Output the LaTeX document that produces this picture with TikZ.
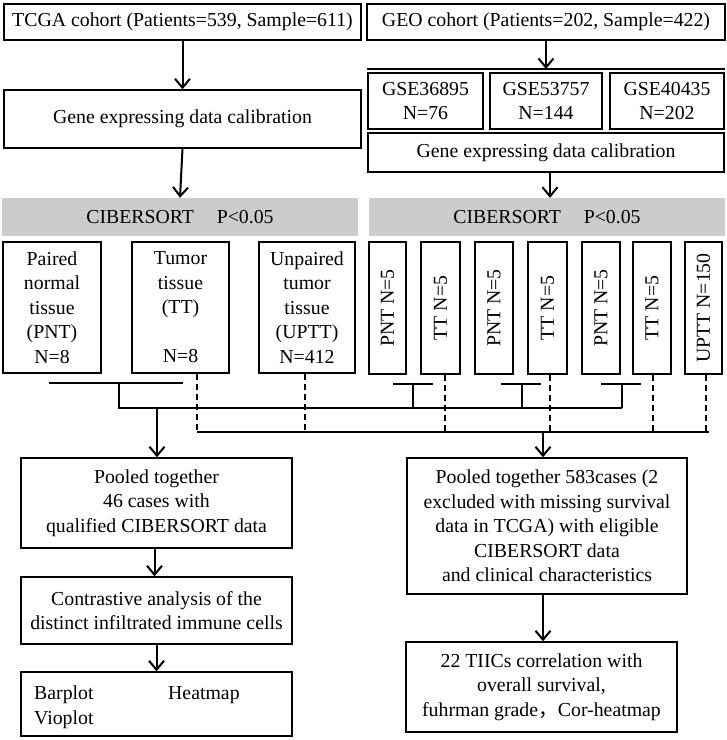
\documentclass[tikz,border=0pt]{standalone}
\usepackage{fontspec}
\setmainfont{Liberation Serif}
\newfontfamily\cjkf{Noto Sans CJK SC}
\usetikzlibrary{arrows.meta}
\begin{document}
\begin{tikzpicture}[x=1pt,y=-1pt,
  txt/.style={font=\fontsize{19.8}{24.5}\selectfont, inner sep=0pt},
  box/.style={txt, draw, line width=1.4pt, align=center},
  graybar/.style={txt, fill=black!20, draw=none, minimum width=356pt, minimum height=38pt},
  ln/.style={line width=2pt},
  dsh/.style={line width=2pt, dash pattern=on 6pt off 4pt},
  arr/.style={line width=2pt, -{Straight Barb[length=9pt,width=15pt,line width=2pt]}}]
\useasboundingbox (0,0) rectangle (727,740);
\fill[white] (0,0) rectangle (727,740);

% ---------- top level ----------
\node[box, minimum width=357pt, minimum height=36pt] (tcga) at (182.5,22) {TCGA cohort (Patients=539, Sample=611)};
\node[box, minimum width=357pt, minimum height=58pt] (genel) at (182.5,119) {Gene expressing data calibration};
\node[box, minimum width=358pt, minimum height=36pt] (geo) at (546,22) {GEO cohort (Patients=202, Sample=422)};

\coordinate (glA) at (367,69);
\coordinate (glB) at (725,69);
\draw[line width=2.6pt] (glA) -- (glB);

\node[box, minimum width=115pt, minimum height=56pt] (gse1) at (425.5,101) {GSE36895\\N=76};
\node[box, minimum width=112pt, minimum height=56pt] (gse2) at (546,101) {GSE53757\\N=144};
\node[box, minimum width=114pt, minimum height=56pt] (gse3) at (667,101) {GSE40435\\N=202};
\node[box, minimum width=356pt, minimum height=39pt] (gener) at (546,152.5) {Gene expressing data calibration};

\node[graybar] (cibl) at (180,217) {CIBERSORT\hspace{1.15em}P<0.05};
\node[graybar] (cibr) at (547,217) {CIBERSORT\hspace{1.15em}P<0.05};

\draw[arr] (tcga.south) -- (genel.north);
\draw[arr] (genel.south) -- (cibl.north);
\draw[arr] (geo.south) -- (geo.south |- glA);
\draw[arr] ([xshift=4pt]gener.south) -- ([xshift=4pt]gener.south |- cibr.north);

% ---------- left sample boxes ----------
\node[box, minimum width=98pt, minimum height=131pt] (pnt) at (52,307.5) {Paired\\normal\\tissue\\(PNT)\\N=8};
\node[box, minimum width=97pt, minimum height=131pt] (tt) at (180.5,307.5) {Tumor\\tissue\\(TT)\\\mbox{}\\N=8};
\node[box, minimum width=96pt, minimum height=131pt] (uptt) at (307,307.5) {Unpaired\\tumor\\tissue\\(UPTT)\\N=412};

% ---------- right sample boxes ----------
\node[box, minimum width=37pt, minimum height=132pt] (p1) at (387.5,308) {\rotatebox{90}{PNT N=5}};
\node[box, minimum width=39pt, minimum height=132pt] (t1) at (440.5,308) {\rotatebox{90}{TT N=5}};
\node[box, minimum width=38pt, minimum height=132pt] (p2) at (494,308) {\rotatebox{90}{PNT N=5}};
\node[box, minimum width=39pt, minimum height=132pt] (t2) at (547.5,308) {\rotatebox{90}{TT N=5}};
\node[box, minimum width=38pt, minimum height=132pt] (p3) at (601,308) {\rotatebox{90}{PNT N=5}};
\node[box, minimum width=38pt, minimum height=132pt] (t3) at (652,308) {\rotatebox{90}{TT N=5}};
\node[box, minimum width=37pt, minimum height=132pt] (u1) at (703.5,308) {\rotatebox{90}{UPTT N=150}};

% ---------- connectors ----------
\coordinate (sy) at (0,408);
\coordinate (dy) at (0,432);
% paired bars (solid)
\coordinate (b0) at (119,383);
\coordinate (b1) at (413,384);
\coordinate (b2) at (522,384);
\coordinate (b3) at (622,384);
\draw[ln] (49,383) -- (183,383);
\draw[ln] (393,384) -- (433,384);
\draw[ln] (501,384) -- (541,384);
\draw[ln] (601,384) -- (641,384);
\draw[ln] (b1) -- (b1 |- sy);
\draw[ln] (b2) -- (b2 |- sy);
\draw[ln] (b3) -- (b3 |- sy);
\draw[ln] (b0) -- (b0 |- sy) -- (b3 |- sy);
% unpaired / tumour (dashed)
\draw[dsh] ([xshift=16.5pt]tt.south) -- ([xshift=16.5pt]tt.south |- dy);
\draw[dsh] ([xshift=-2pt]uptt.south) -- ([xshift=-2pt]uptt.south |- dy);
\draw[dsh] ([xshift=4.5pt]t1.south) -- ([xshift=4.5pt]t1.south |- dy);
\draw[dsh] ([xshift=2.5pt]t2.south) -- ([xshift=2.5pt]t2.south |- dy);
\draw[dsh] ([xshift=1pt]t3.south) -- ([xshift=1pt]t3.south |- dy);
\draw[dsh] ([xshift=2.5pt]u1.south) -- ([xshift=2.5pt]u1.south |- dy);
\draw[ln] (197,432) -- (708.5,432);

% ---------- lower boxes ----------
\node[box, minimum width=271pt, minimum height=90pt] (lpool) at (156.5,503) {Pooled together\\46 cases with\\qualified CIBERSORT data};
\node[box, minimum width=271pt, minimum height=67pt] (contr) at (156.5,610.5) {Contrastive analysis of the\\distinct infiltrated immune cells};
\node[box, minimum width=271pt, minimum height=64pt] (plots) at (156.5,704) {};
\node[txt, anchor=base west] (bar) at (34,699) {Barplot};
\node[txt, anchor=base west] (heat) at (168,699) {Heatmap};
\node[txt, anchor=base west] (vio) at (34,724) {Vioplot};

\node[box, minimum width=280pt, minimum height=136pt] (rpool) at (547,526) {Pooled together 583cases (2\\excluded with missing survival\\data in TCGA) with eligible\\CIBERSORT data\\and clinical characteristics};
\node[box, minimum width=271pt, minimum height=90pt] (tiic) at (541.5,687) {22 TIICs correlation with\\overall survival,\\fuhrman grade{\cjkf ，}Cor-heatmap};

\coordinate (sj) at (157,408);
\coordinate (dj) at (543,432);
\draw[arr] (sj) -- (sj |- lpool.north);
\draw[arr] (dj) -- (dj |- rpool.north);
\draw[arr] ([xshift=-2pt]lpool.south) -- ([xshift=-2pt]lpool.south |- contr.north);
\draw[arr] (contr.south) -- (contr.south |- plots.north);
\draw[arr] ([xshift=-4pt]rpool.south) -- ([xshift=-4pt]rpool.south |- tiic.north);
\end{tikzpicture}
\end{document}
